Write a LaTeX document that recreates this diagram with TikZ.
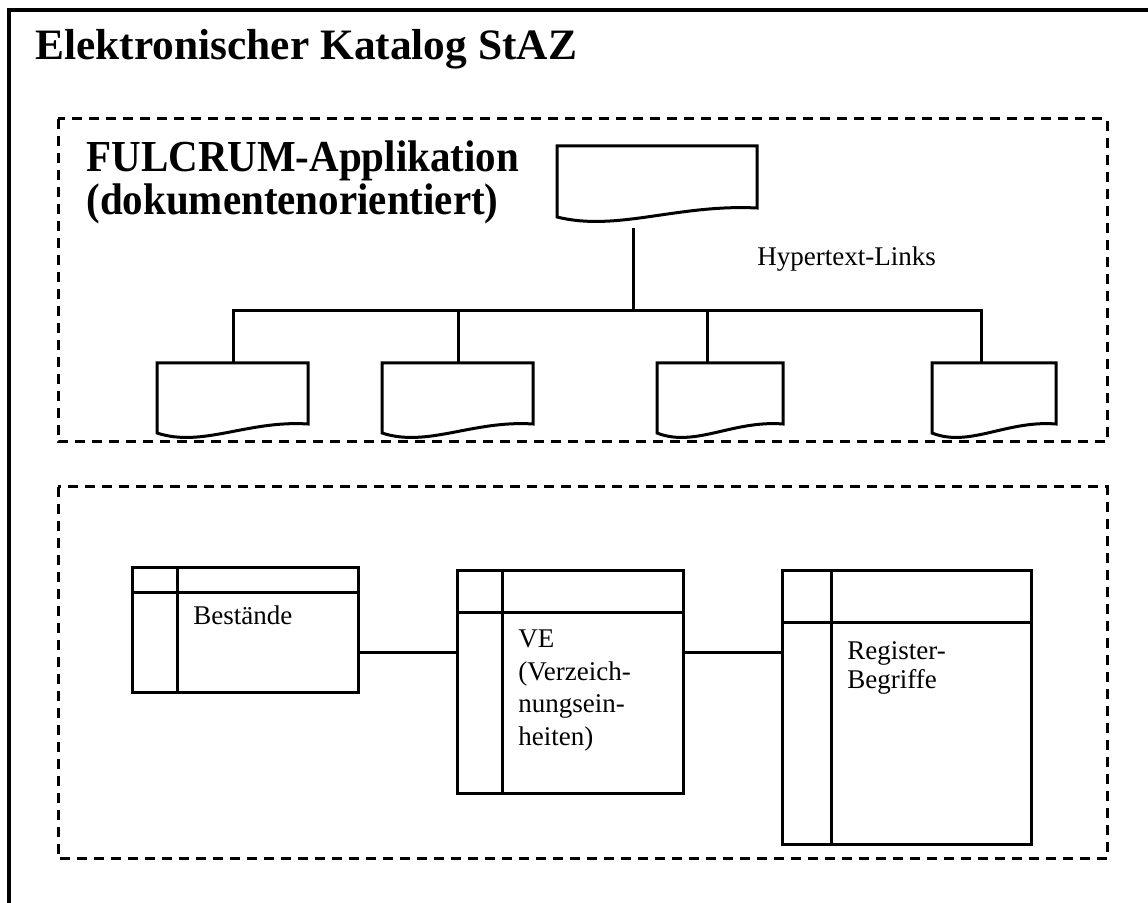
\documentclass[tikz,border=0pt]{standalone}
\usepackage{fontspec}
\setmainfont{Liberation Serif}
\usetikzlibrary{calc}
\newcommand{\docshape}[1]{%
  \draw[conn] ($(#1.south west)+(0,-5)$) -- (#1.north west) -- (#1.north east) -- ($(#1.south east)+(0,-14)$)
   .. controls ($(#1.south west)!0.6!(#1.south east)+(0,-18)$) and ($(#1.south west)!0.3!(#1.south east)+(0,10)$) .. ($(#1.south west)+(0,-5)$) -- cycle;}
\newcommand{\tblines}[3]{%
  \draw[conn] ($(#1.north west)+(0,#2)$) -- ($(#1.north east)+(0,#2)$);
  \draw[conn] ($(#1.north west)+(#3,0)$) -- ($(#1.south west)+(#3,0)$);}
\begin{document}
\begin{tikzpicture}[x=0.5pt,y=-0.5pt, line join=miter,
  frame/.style={line width=2pt},
  dashbox/.style={line width=1.5pt, dash pattern=on 5pt off 3.5pt},
  conn/.style={line width=1.5pt},
  docnode/.style={rectangle, inner sep=0pt, outer sep=0pt, draw=none},
  tbl/.style={rectangle, draw, line width=1.5pt, inner sep=0pt, outer sep=0pt},
  big/.style={font=\fontsize{20.5}{24}\selectfont\bfseries, inner sep=0pt, anchor=base west},
  small/.style={font=\fontsize{13.5}{16}\selectfont, inner sep=0pt, anchor=base west}]
\useasboundingbox (0,0) rectangle (1148,903);
\fill[white] (0,0) rectangle (1148,903);
\begin{scope}
\clip (0,0) rectangle (1148,903);
\draw[frame] (9,10) rectangle (1170,930);
\end{scope}
% titles
\node[big, font=\fontsize{21.7}{24}\selectfont\bfseries] (title) at (35,60) {Elektronischer Katalog StAZ};
\draw[dashbox] (58,119) rectangle (1107,442);
\draw[dashbox] (58,487) rectangle (1107,859);
\node[big] (app1) at (86,172) {\scalebox{1}[1.08]{FULCRUM-Applikation}};
\node[big] (app2) at (86,215) {\scalebox{1}[1.08]{(dokumentenorientiert)}};
\node[small] (hl) at (757,266) {Hypertext-Links};
% documents
\node[docnode, minimum width=100pt, minimum height=38pt] (top) at (657,184) {};
\node[docnode, minimum width=75.5pt, minimum height=37.5pt] (d1) at (232.5,400.5) {};
\node[docnode, minimum width=75.5pt, minimum height=37.5pt] (d2) at (457.5,400.5) {};
\node[docnode, minimum width=63pt, minimum height=37.5pt] (d3) at (720,400.5) {};
\node[docnode, minimum width=62pt, minimum height=37.5pt] (d4) at (994,400.5) {};
\docshape{top}
\docshape{d1}
\docshape{d2}
\docshape{d3}
\docshape{d4}
\coordinate (j0) at (633,311);
\coordinate (j1) at (233,311);
\coordinate (j2) at (458,311);
\coordinate (j3) at (707,311);
\coordinate (j4) at (981,311);
\draw[conn, shorten <=3pt] (top.south -| j0) -- (j0);
\draw[conn] (j1 |- d1.north) -- (j1) -- (j4) -- (j4 |- d4.north);
\draw[conn] (j2) -- (j2 |- d2.north);
\draw[conn] (j3) -- (j3 |- d3.north);
% tables
\node[tbl, minimum width=113pt, minimum height=62.5pt] (best) at (245,630.5) {};
\node[tbl, minimum width=113pt, minimum height=111.5pt] (ve) at (570,682.5) {};
\node[tbl, minimum width=124.5pt, minimum height=137pt] (reg) at (906.5,708) {};
\tblines{best}{25}{45}
\tblines{ve}{42}{45}
\tblines{reg}{52}{49}
\node[small] (tb) at (193,625) {Bestände};
\node[small] (tv1) at (518,648) {VE};
\node[small] (tv2) at (518,680.5) {(Verzeich-};
\node[small] (tv3) at (518,713) {nungsein-};
\node[small] (tv4) at (518,745.5) {heiten)};
\node[small] (tr1) at (847,660) {Register-};
\node[small] (tr2) at (847,689) {Begriffe};
\coordinate (row) at (0,653);
\draw[conn] (best.east |- row) -- (ve.west |- row);
\draw[conn] (ve.east |- row) -- (reg.west |- row);
\end{tikzpicture}
\end{document}
